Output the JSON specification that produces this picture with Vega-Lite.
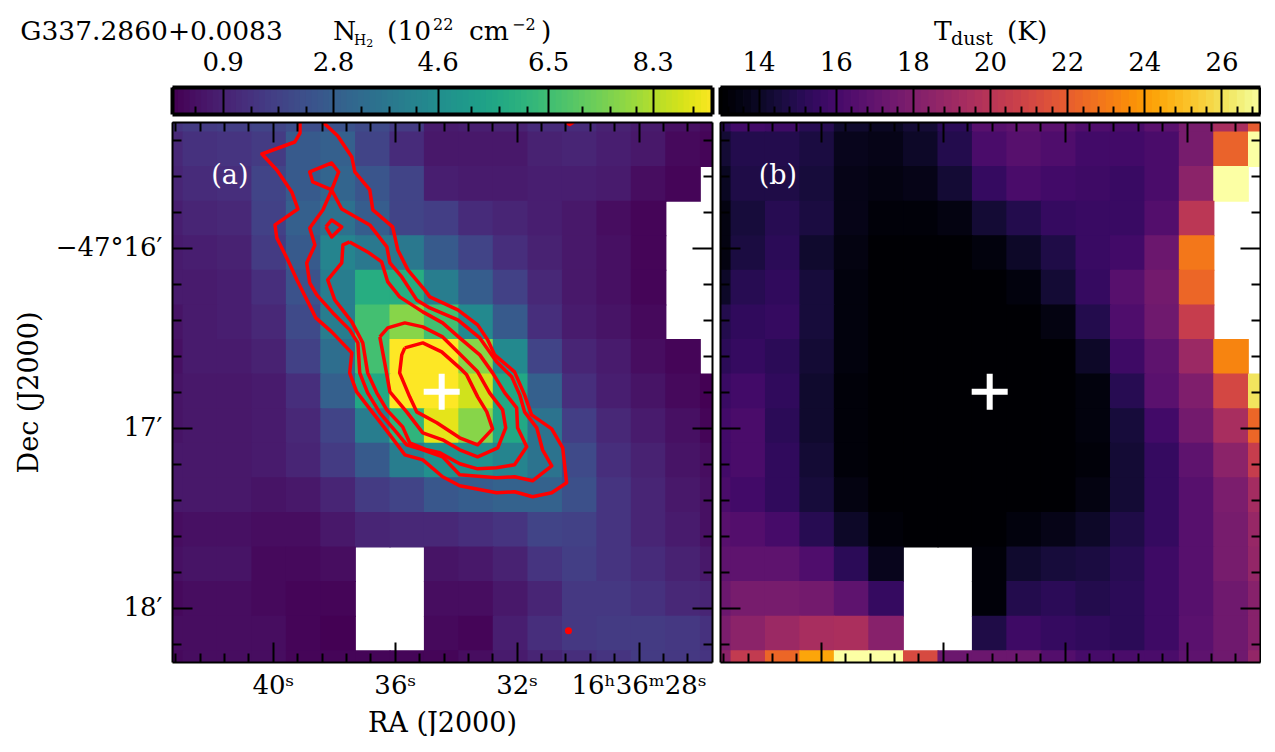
{
"$schema":"https://vega.github.io/schema/vega-lite/v6.json",
"padding":{"left":15,"top":17,"right":0,"bottom":0},
"background":"white",
"resolve":{"scale":{"color":"independent"}},
"config":{"font":"DejaVu Serif","view":{"stroke":null},
"axis":{"grid":false,"tickColor":"black","tickWidth":2,"tickSize":0,"domainColor":"black","domainWidth":2,"labelFontSize":26,"titleFontSize":27,"titleFontWeight":"normal","labelColor":"black","titleColor":"black","labelOverlap":false,"labelBound":false,"labelFlush":false}},
"datasets":{
"grid":[
{"ra":43.52,"dec":915.57,"n":1.42,"t":15.1},{"ra":42.38,"dec":915.57,"n":1.61,"t":15.8},{"ra":41.25,"dec":915.57,"n":1.7,"t":15.66},{"ra":40.12,"dec":915.57,"n":1.89,"t":14.96},{"ra":38.99,"dec":915.57,"n":2.17,"t":14.12},{"ra":37.86,"dec":915.57,"n":2.35,"t":13.84},{"ra":36.72,"dec":915.57,"n":2.07,"t":14.26},{"ra":35.59,"dec":915.57,"n":1.61,"t":15.1},{"ra":34.46,"dec":915.57,"n":0.68,"t":16.5},{"ra":33.33,"dec":915.57,"n":0.77,"t":16.78},{"ra":32.2,"dec":915.57,"n":0.87,"t":16.64},{"ra":31.06,"dec":915.57,"n":1.14,"t":16.22},{"ra":29.93,"dec":915.57,"n":1.14,"t":16.08},{"ra":28.8,"dec":915.57,"n":0.87,"t":16.64},{"ra":27.67,"dec":915.57,"n":0.68,"t":17.62},{"ra":26.54,"dec":915.57,"n":0.4,"t":19.3},{"ra":25.4,"dec":915.57,"n":0.22,"t":21.82},
{"ra":43.52,"dec":927.1,"n":1.05,"t":14.26},{"ra":42.38,"dec":927.1,"n":1.33,"t":14.82},{"ra":41.25,"dec":927.1,"n":1.42,"t":14.82},{"ra":40.12,"dec":927.1,"n":1.61,"t":14.54},{"ra":38.99,"dec":927.1,"n":2.63,"t":13.7},{"ra":37.86,"dec":927.1,"n":2.82,"t":13.56},{"ra":36.72,"dec":927.1,"n":1.89,"t":13.98},{"ra":35.59,"dec":927.1,"n":1.14,"t":14.82},{"ra":34.46,"dec":927.1,"n":0.59,"t":16.08},{"ra":33.33,"dec":927.1,"n":0.59,"t":16.5},{"ra":32.2,"dec":927.1,"n":0.59,"t":16.22},{"ra":31.06,"dec":927.1,"n":0.87,"t":15.8},{"ra":29.93,"dec":927.1,"n":0.96,"t":15.8},{"ra":28.8,"dec":927.1,"n":0.77,"t":16.08},{"ra":27.67,"dec":927.1,"n":0.59,"t":17.62},{"ra":26.54,"dec":927.1,"n":0.22,"t":22.1},{"ra":25.4,"dec":927.1,"n":0.12,"t":27},
{"ra":43.52,"dec":938.63,"n":0.96,"t":13.84},{"ra":42.38,"dec":938.63,"n":1.14,"t":14.68},{"ra":41.25,"dec":938.63,"n":1.24,"t":14.68},{"ra":40.12,"dec":938.63,"n":1.89,"t":14.4},{"ra":38.99,"dec":938.63,"n":2.63,"t":13.56},{"ra":37.86,"dec":938.63,"n":3.0,"t":13.42},{"ra":36.72,"dec":938.63,"n":2.45,"t":13.56},{"ra":35.59,"dec":938.63,"n":1.89,"t":14.26},{"ra":34.46,"dec":938.63,"n":0.77,"t":15.38},{"ra":33.33,"dec":938.63,"n":0.68,"t":16.08},{"ra":32.2,"dec":938.63,"n":0.68,"t":15.8},{"ra":31.06,"dec":938.63,"n":0.77,"t":15.66},{"ra":29.93,"dec":938.63,"n":0.77,"t":15.52},{"ra":28.8,"dec":938.63,"n":0.68,"t":16.08},{"ra":27.67,"dec":938.63,"n":0.31,"t":18.32},{"ra":26.54,"dec":938.63,"n":0.12,"t":27},
{"ra":43.52,"dec":950.17,"n":0.77,"t":13.42},{"ra":42.38,"dec":950.17,"n":0.96,"t":14.4},{"ra":41.25,"dec":950.17,"n":1.05,"t":14.96},{"ra":40.12,"dec":950.17,"n":1.8,"t":14.54},{"ra":38.99,"dec":950.17,"n":2.82,"t":13.56},{"ra":37.86,"dec":950.17,"n":3.47,"t":13.14},{"ra":36.72,"dec":950.17,"n":2.72,"t":13.14},{"ra":35.59,"dec":950.17,"n":1.89,"t":13.42},{"ra":34.46,"dec":950.17,"n":1.7,"t":14.26},{"ra":33.33,"dec":950.17,"n":1.14,"t":14.82},{"ra":32.2,"dec":950.17,"n":0.96,"t":15.38},{"ra":31.06,"dec":950.17,"n":0.77,"t":15.52},{"ra":29.93,"dec":950.17,"n":0.59,"t":15.52},{"ra":28.8,"dec":950.17,"n":0.31,"t":16.36},{"ra":27.67,"dec":950.17,"n":0.12,"t":20},
{"ra":43.52,"dec":961.7,"n":0.68,"t":13.42},{"ra":42.38,"dec":961.7,"n":0.77,"t":14.54},{"ra":41.25,"dec":961.7,"n":0.87,"t":15.1},{"ra":40.12,"dec":961.7,"n":1.61,"t":14.12},{"ra":38.99,"dec":961.7,"n":2.63,"t":13.42},{"ra":37.86,"dec":961.7,"n":4.21,"t":13},{"ra":36.72,"dec":961.7,"n":3.75,"t":13},{"ra":35.59,"dec":961.7,"n":3.75,"t":13},{"ra":34.46,"dec":961.7,"n":2.63,"t":13.28},{"ra":33.33,"dec":961.7,"n":1.89,"t":13.98},{"ra":32.2,"dec":961.7,"n":1.24,"t":14.68},{"ra":31.06,"dec":961.7,"n":0.87,"t":15.52},{"ra":29.93,"dec":961.7,"n":0.59,"t":15.8},{"ra":28.8,"dec":961.7,"n":0.4,"t":17.2},{"ra":27.67,"dec":961.7,"n":0.12,"t":22.8},
{"ra":43.52,"dec":973.23,"n":0.68,"t":13.98},{"ra":42.38,"dec":973.23,"n":0.68,"t":14.96},{"ra":41.25,"dec":973.23,"n":0.77,"t":15.24},{"ra":40.12,"dec":973.23,"n":1.24,"t":14.4},{"ra":38.99,"dec":973.23,"n":2.35,"t":13.28},{"ra":37.86,"dec":973.23,"n":3.93,"t":13},{"ra":36.72,"dec":973.23,"n":5.79,"t":13},{"ra":35.59,"dec":973.23,"n":5.79,"t":13},{"ra":34.46,"dec":973.23,"n":3.93,"t":13},{"ra":33.33,"dec":973.23,"n":2.72,"t":13.28},{"ra":32.2,"dec":973.23,"n":1.8,"t":14.26},{"ra":31.06,"dec":973.23,"n":1.05,"t":15.38},{"ra":29.93,"dec":973.23,"n":0.59,"t":16.5},{"ra":28.8,"dec":973.23,"n":0.4,"t":17.48},{"ra":27.67,"dec":973.23,"n":0.12,"t":22.24},
{"ra":43.52,"dec":984.77,"n":0.49,"t":14.82},{"ra":42.38,"dec":984.77,"n":0.68,"t":15.24},{"ra":41.25,"dec":984.77,"n":0.77,"t":15.38},{"ra":40.12,"dec":984.77,"n":1.05,"t":14.4},{"ra":38.99,"dec":984.77,"n":2.07,"t":13.28},{"ra":37.86,"dec":984.77,"n":3.93,"t":13},{"ra":36.72,"dec":984.77,"n":6.53,"t":13},{"ra":35.59,"dec":984.77,"n":7.65,"t":13},{"ra":34.46,"dec":984.77,"n":6.53,"t":13},{"ra":33.33,"dec":984.77,"n":4.4,"t":13},{"ra":32.2,"dec":984.77,"n":2.63,"t":13.42},{"ra":31.06,"dec":984.77,"n":1.24,"t":14.82},{"ra":29.93,"dec":984.77,"n":0.68,"t":16.22},{"ra":28.8,"dec":984.77,"n":0.49,"t":17.34},{"ra":27.67,"dec":984.77,"n":0.22,"t":20.42},
{"ra":43.52,"dec":996.3,"n":0.4,"t":15.1},{"ra":42.38,"dec":996.3,"n":0.68,"t":15.38},{"ra":41.25,"dec":996.3,"n":0.68,"t":15.1},{"ra":40.12,"dec":996.3,"n":0.87,"t":14.26},{"ra":38.99,"dec":996.3,"n":1.8,"t":13.28},{"ra":37.86,"dec":996.3,"n":3.37,"t":13},{"ra":36.72,"dec":996.3,"n":6.53,"t":13},{"ra":35.59,"dec":996.3,"n":9.32,"t":13},{"ra":34.46,"dec":996.3,"n":9.32,"t":13},{"ra":33.33,"dec":996.3,"n":7.65,"t":13},{"ra":32.2,"dec":996.3,"n":4.4,"t":13},{"ra":31.06,"dec":996.3,"n":1.89,"t":13.98},{"ra":29.93,"dec":996.3,"n":0.96,"t":15.66},{"ra":28.8,"dec":996.3,"n":0.68,"t":16.78},{"ra":27.67,"dec":996.3,"n":0.31,"t":18.88},{"ra":26.54,"dec":996.3,"n":0.12,"t":23.22},
{"ra":43.52,"dec":1007.83,"n":0.49,"t":15.52},{"ra":42.38,"dec":1007.83,"n":0.59,"t":15.8},{"ra":41.25,"dec":1007.83,"n":0.59,"t":15.24},{"ra":40.12,"dec":1007.83,"n":0.68,"t":14.12},{"ra":38.99,"dec":1007.83,"n":1.24,"t":13.14},{"ra":37.86,"dec":1007.83,"n":2.82,"t":13},{"ra":36.72,"dec":1007.83,"n":5.6,"t":13},{"ra":35.59,"dec":1007.83,"n":9.32,"t":13},{"ra":34.46,"dec":1007.83,"n":9.32,"t":13},{"ra":33.33,"dec":1007.83,"n":8.67,"t":13},{"ra":32.2,"dec":1007.83,"n":5.6,"t":13},{"ra":31.06,"dec":1007.83,"n":2.82,"t":13.28},{"ra":29.93,"dec":1007.83,"n":1.24,"t":14.96},{"ra":28.8,"dec":1007.83,"n":0.77,"t":16.64},{"ra":27.67,"dec":1007.83,"n":0.49,"t":17.9},{"ra":26.54,"dec":1007.83,"n":0.22,"t":20.98},{"ra":25.4,"dec":1007.83,"n":0.03,"t":26.02},
{"ra":43.52,"dec":1019.37,"n":0.49,"t":15.8},{"ra":42.38,"dec":1019.37,"n":0.59,"t":16.08},{"ra":41.25,"dec":1019.37,"n":0.59,"t":15.1},{"ra":40.12,"dec":1019.37,"n":0.68,"t":14.12},{"ra":38.99,"dec":1019.37,"n":1.05,"t":13.14},{"ra":37.86,"dec":1019.37,"n":1.89,"t":13},{"ra":36.72,"dec":1019.37,"n":3.93,"t":13},{"ra":35.59,"dec":1019.37,"n":6.07,"t":13},{"ra":34.46,"dec":1019.37,"n":8.95,"t":13},{"ra":33.33,"dec":1019.37,"n":7.65,"t":13},{"ra":32.2,"dec":1019.37,"n":5.6,"t":13},{"ra":31.06,"dec":1019.37,"n":3.56,"t":13.28},{"ra":29.93,"dec":1019.37,"n":1.7,"t":14.4},{"ra":28.8,"dec":1019.37,"n":1.05,"t":15.8},{"ra":27.67,"dec":1019.37,"n":0.68,"t":17.48},{"ra":26.54,"dec":1019.37,"n":0.4,"t":19.3},{"ra":25.4,"dec":1019.37,"n":0.12,"t":22.24},
{"ra":43.52,"dec":1030.9,"n":0.59,"t":15.8},{"ra":42.38,"dec":1030.9,"n":0.59,"t":16.08},{"ra":41.25,"dec":1030.9,"n":0.59,"t":15.24},{"ra":40.12,"dec":1030.9,"n":0.68,"t":14.26},{"ra":38.99,"dec":1030.9,"n":0.96,"t":13.14},{"ra":37.86,"dec":1030.9,"n":1.61,"t":13},{"ra":36.72,"dec":1030.9,"n":2.63,"t":13},{"ra":35.59,"dec":1030.9,"n":3.93,"t":13},{"ra":34.46,"dec":1030.9,"n":4.68,"t":13},{"ra":33.33,"dec":1030.9,"n":4.68,"t":13},{"ra":32.2,"dec":1030.9,"n":4.21,"t":13},{"ra":31.06,"dec":1030.9,"n":3.56,"t":13.14},{"ra":29.93,"dec":1030.9,"n":2.07,"t":14.26},{"ra":28.8,"dec":1030.9,"n":1.24,"t":15.38},{"ra":27.67,"dec":1030.9,"n":0.87,"t":16.78},{"ra":26.54,"dec":1030.9,"n":0.49,"t":18.32},{"ra":25.4,"dec":1030.9,"n":0.31,"t":20.42},
{"ra":43.52,"dec":1042.43,"n":0.59,"t":16.08},{"ra":42.38,"dec":1042.43,"n":0.59,"t":15.8},{"ra":41.25,"dec":1042.43,"n":0.59,"t":15.24},{"ra":40.12,"dec":1042.43,"n":0.49,"t":14.4},{"ra":38.99,"dec":1042.43,"n":0.59,"t":13.42},{"ra":37.86,"dec":1042.43,"n":0.96,"t":13},{"ra":36.72,"dec":1042.43,"n":1.61,"t":13},{"ra":35.59,"dec":1042.43,"n":1.89,"t":13},{"ra":34.46,"dec":1042.43,"n":2.54,"t":13},{"ra":33.33,"dec":1042.43,"n":2.72,"t":13},{"ra":32.2,"dec":1042.43,"n":2.91,"t":13},{"ra":31.06,"dec":1042.43,"n":2.91,"t":13.42},{"ra":29.93,"dec":1042.43,"n":2.26,"t":14.26},{"ra":28.8,"dec":1042.43,"n":1.42,"t":15.38},{"ra":27.67,"dec":1042.43,"n":0.96,"t":16.5},{"ra":26.54,"dec":1042.43,"n":0.59,"t":17.76},{"ra":25.4,"dec":1042.43,"n":0.4,"t":19.16},
{"ra":43.52,"dec":1053.97,"n":0.31,"t":16.5},{"ra":42.38,"dec":1053.97,"n":0.4,"t":16.36},{"ra":41.25,"dec":1053.97,"n":0.4,"t":15.94},{"ra":40.12,"dec":1053.97,"n":0.31,"t":14.96},{"ra":38.99,"dec":1053.97,"n":0.31,"t":13.98},{"ra":37.86,"dec":1053.97,"n":0.59,"t":13.14},{"ra":36.72,"dec":1053.97,"n":0.96,"t":13},{"ra":35.59,"dec":1053.97,"n":1.05,"t":13},{"ra":34.46,"dec":1053.97,"n":1.05,"t":13},{"ra":33.33,"dec":1053.97,"n":1.24,"t":13.28},{"ra":32.2,"dec":1053.97,"n":1.42,"t":13.56},{"ra":31.06,"dec":1053.97,"n":1.89,"t":13.98},{"ra":29.93,"dec":1053.97,"n":1.8,"t":14.68},{"ra":28.8,"dec":1053.97,"n":1.42,"t":15.38},{"ra":27.67,"dec":1053.97,"n":0.96,"t":16.5},{"ra":26.54,"dec":1053.97,"n":0.68,"t":17.62},{"ra":25.4,"dec":1053.97,"n":0.4,"t":18.74},
{"ra":43.52,"dec":1065.5,"n":0.4,"t":16.78},{"ra":42.38,"dec":1065.5,"n":0.49,"t":16.78},{"ra":41.25,"dec":1065.5,"n":0.49,"t":16.78},{"ra":40.12,"dec":1065.5,"n":0.22,"t":16.22},{"ra":38.99,"dec":1065.5,"n":0.22,"t":15.1},{"ra":37.86,"dec":1065.5,"n":0.31,"t":13.7},{"ra":34.46,"dec":1065.5,"n":0.49,"t":13.14},{"ra":33.33,"dec":1065.5,"n":0.59,"t":14.12},{"ra":32.2,"dec":1065.5,"n":0.87,"t":14.4},{"ra":31.06,"dec":1065.5,"n":1.42,"t":14.54},{"ra":29.93,"dec":1065.5,"n":1.7,"t":14.96},{"ra":28.8,"dec":1065.5,"n":1.42,"t":15.66},{"ra":27.67,"dec":1065.5,"n":1.14,"t":16.5},{"ra":26.54,"dec":1065.5,"n":0.87,"t":17.62},{"ra":25.4,"dec":1065.5,"n":0.59,"t":18.6},
{"ra":43.52,"dec":1077.03,"n":0.22,"t":17.2},{"ra":42.38,"dec":1077.03,"n":0.31,"t":17.62},{"ra":41.25,"dec":1077.03,"n":0.31,"t":17.62},{"ra":40.12,"dec":1077.03,"n":0.22,"t":17.48},{"ra":38.99,"dec":1077.03,"n":0.12,"t":16.78},{"ra":37.86,"dec":1077.03,"n":0.12,"t":15.38},{"ra":34.46,"dec":1077.03,"n":0.31,"t":13.14},{"ra":33.33,"dec":1077.03,"n":0.31,"t":14.82},{"ra":32.2,"dec":1077.03,"n":0.59,"t":15.1},{"ra":31.06,"dec":1077.03,"n":0.96,"t":14.82},{"ra":29.93,"dec":1077.03,"n":1.52,"t":15.1},{"ra":28.8,"dec":1077.03,"n":1.52,"t":15.66},{"ra":27.67,"dec":1077.03,"n":1.33,"t":16.5},{"ra":26.54,"dec":1077.03,"n":1.05,"t":17.34},{"ra":25.4,"dec":1077.03,"n":0.96,"t":18.18},
{"ra":43.52,"dec":1088.57,"n":0.31,"t":17.76},{"ra":42.38,"dec":1088.57,"n":0.31,"t":18.32},{"ra":41.25,"dec":1088.57,"n":0.31,"t":18.88},{"ra":40.12,"dec":1088.57,"n":0.31,"t":19.3},{"ra":38.99,"dec":1088.57,"n":0.12,"t":19.44},{"ra":37.86,"dec":1088.57,"n":0.03,"t":18.18},{"ra":34.46,"dec":1088.57,"n":0.22,"t":14.68},{"ra":33.33,"dec":1088.57,"n":0.12,"t":15.66},{"ra":32.2,"dec":1088.57,"n":0.77,"t":15.38},{"ra":31.06,"dec":1088.57,"n":1.24,"t":15.24},{"ra":29.93,"dec":1088.57,"n":1.52,"t":15.1},{"ra":28.8,"dec":1088.57,"n":1.61,"t":15.66},{"ra":27.67,"dec":1088.57,"n":1.61,"t":16.64},{"ra":26.54,"dec":1088.57,"n":1.52,"t":17.34},{"ra":25.4,"dec":1088.57,"n":1.33,"t":18.18},
{"ra":43.52,"dec":1100.1,"n":0.22,"t":18.32},{"ra":42.38,"dec":1100.1,"n":0.31,"t":20.28},{"ra":41.25,"dec":1100.1,"n":0.31,"t":22.24},{"ra":40.12,"dec":1100.1,"n":0.31,"t":24.2},{"ra":38.99,"dec":1100.1,"n":0.12,"t":27},{"ra":37.86,"dec":1100.1,"n":0.12,"t":27},{"ra":36.72,"dec":1100.1,"n":0.12,"t":21.12},{"ra":35.59,"dec":1100.1,"n":0.12,"t":17.2},{"ra":34.46,"dec":1100.1,"n":0.12,"t":17.2},{"ra":33.33,"dec":1100.1,"n":0.31,"t":17.2},{"ra":32.2,"dec":1100.1,"n":0.68,"t":16.36},{"ra":31.06,"dec":1100.1,"n":0.96,"t":15.94},{"ra":29.93,"dec":1100.1,"n":1.24,"t":16.08},{"ra":28.8,"dec":1100.1,"n":1.42,"t":16.08},{"ra":27.67,"dec":1100.1,"n":1.61,"t":16.78},{"ra":26.54,"dec":1100.1,"n":1.52,"t":17.34},{"ra":25.4,"dec":1100.1,"n":1.42,"t":18.6}
],
"contour":[
{"c":"1","o":1,"ra":39.11,"dec":918},{"c":"1","o":2,"ra":39.11,"dec":921.67},{"c":"1","o":3,"ra":39.28,"dec":924.67},{"c":"1","o":4,"ra":40.36,"dec":928.67},{"c":"1","o":5,"ra":39.87,"dec":934},{"c":"1","o":6,"ra":39.38,"dec":941.33},{"c":"1","o":7,"ra":39.18,"dec":947},{"c":"1","o":8,"ra":39.93,"dec":952.33},{"c":"1","o":9,"ra":39.87,"dec":956.67},{"c":"1","o":10,"ra":39.51,"dec":964},{"c":"1","o":11,"ra":39.21,"dec":970.67},{"c":"1","o":12,"ra":38.59,"dec":983.33},{"c":"1","o":13,"ra":38.07,"dec":988},{"c":"1","o":14,"ra":37.41,"dec":995},{"c":"1","o":15,"ra":37.48,"dec":1001.67},{"c":"1","o":16,"ra":37.25,"dec":1008},{"c":"1","o":17,"ra":36.92,"dec":1012.33},{"c":"1","o":18,"ra":36.16,"dec":1022.33},{"c":"1","o":19,"ra":35.67,"dec":1029},{"c":"1","o":20,"ra":35.08,"dec":1030.67},{"c":"1","o":21,"ra":34.43,"dec":1036.33},{"c":"1","o":22,"ra":33.87,"dec":1039.33},{"c":"1","o":23,"ra":32.66,"dec":1041.67},{"c":"1","o":24,"ra":32.07,"dec":1041.33},{"c":"1","o":25,"ra":31.48,"dec":1043},{"c":"1","o":26,"ra":30.85,"dec":1041.67},{"c":"1","o":27,"ra":30.36,"dec":1038.33},{"c":"1","o":28,"ra":30.49,"dec":1026.67},{"c":"1","o":29,"ra":30.85,"dec":1020.33},{"c":"1","o":30,"ra":31.51,"dec":1015.67},{"c":"1","o":31,"ra":31.74,"dec":1009},{"c":"1","o":32,"ra":32.07,"dec":1001.33},{"c":"1","o":33,"ra":32.72,"dec":995.67},{"c":"1","o":34,"ra":32.95,"dec":990.67},{"c":"1","o":35,"ra":33.28,"dec":985.67},{"c":"1","o":36,"ra":33.93,"dec":980.67},{"c":"1","o":37,"ra":34.85,"dec":976.33},{"c":"1","o":38,"ra":35.02,"dec":974},{"c":"1","o":39,"ra":35.57,"dec":967.33},{"c":"1","o":40,"ra":35.9,"dec":960.67},{"c":"1","o":41,"ra":36.07,"dec":953},{"c":"1","o":42,"ra":36.72,"dec":947.33},{"c":"1","o":43,"ra":36.82,"dec":940.67},{"c":"1","o":44,"ra":37.31,"dec":934.67},{"c":"1","o":45,"ra":37.41,"dec":929.67},{"c":"1","o":46,"ra":37.87,"dec":922.67},{"c":"1","o":47,"ra":38.36,"dec":918},
{"c":"2","o":1,"ra":38.07,"dec":940.67},{"c":"2","o":2,"ra":38.69,"dec":938},{"c":"2","o":3,"ra":38.79,"dec":934.67},{"c":"2","o":4,"ra":38.07,"dec":931.67},{"c":"2","o":5,"ra":37.84,"dec":934.67},{"c":"2","o":6,"ra":38.07,"dec":940.67},{"c":"2","o":7,"ra":38.36,"dec":947.33},{"c":"2","o":8,"ra":38.79,"dec":953.33},{"c":"2","o":9,"ra":38.62,"dec":959},{"c":"2","o":10,"ra":38.89,"dec":965},{"c":"2","o":11,"ra":38.79,"dec":971.67},{"c":"2","o":12,"ra":38.56,"dec":975.67},{"c":"2","o":13,"ra":38.03,"dec":981.67},{"c":"2","o":14,"ra":37.48,"dec":987.33},{"c":"2","o":15,"ra":37.21,"dec":991.67},{"c":"2","o":16,"ra":37.15,"dec":1001.67},{"c":"2","o":17,"ra":36.89,"dec":1008.33},{"c":"2","o":18,"ra":36.49,"dec":1015},{"c":"2","o":19,"ra":35.93,"dec":1021.67},{"c":"2","o":20,"ra":35.61,"dec":1025.67},{"c":"2","o":21,"ra":35.08,"dec":1027.33},{"c":"2","o":22,"ra":34.43,"dec":1029.67},{"c":"2","o":23,"ra":33.87,"dec":1035.67},{"c":"2","o":24,"ra":32.66,"dec":1036.67},{"c":"2","o":25,"ra":32.07,"dec":1036.33},{"c":"2","o":26,"ra":31.48,"dec":1037.67},{"c":"2","o":27,"ra":30.85,"dec":1032.67},{"c":"2","o":28,"ra":31.15,"dec":1027.33},{"c":"2","o":29,"ra":31.34,"dec":1020},{"c":"2","o":30,"ra":31.74,"dec":1014.67},{"c":"2","o":31,"ra":31.9,"dec":1009},{"c":"2","o":32,"ra":32.16,"dec":1003},{"c":"2","o":33,"ra":32.66,"dec":998},{"c":"2","o":34,"ra":33.21,"dec":990},{"c":"2","o":35,"ra":33.93,"dec":984},{"c":"2","o":36,"ra":34.85,"dec":980},{"c":"2","o":37,"ra":35.28,"dec":977.33},{"c":"2","o":38,"ra":35.77,"dec":969.67},{"c":"2","o":39,"ra":36.16,"dec":965},{"c":"2","o":40,"ra":36.26,"dec":959.67},{"c":"2","o":41,"ra":36.82,"dec":952.33},{"c":"2","o":42,"ra":37.74,"dec":947},{"c":"2","o":43,"ra":38.07,"dec":940.67},
{"c":"3","o":1,"ra":37.48,"dec":958},{"c":"3","o":2,"ra":36.89,"dec":961.33},{"c":"3","o":3,"ra":36.43,"dec":964.67},{"c":"3","o":4,"ra":36.23,"dec":971.33},{"c":"3","o":5,"ra":35.84,"dec":976.33},{"c":"3","o":6,"ra":35.08,"dec":981.33},{"c":"3","o":7,"ra":34.43,"dec":985},{"c":"3","o":8,"ra":33.87,"dec":990},{"c":"3","o":9,"ra":33.21,"dec":995.67},{"c":"3","o":10,"ra":32.79,"dec":1001.67},{"c":"3","o":11,"ra":32.39,"dec":1008.33},{"c":"3","o":12,"ra":32.0,"dec":1013.33},{"c":"3","o":13,"ra":31.97,"dec":1020},{"c":"3","o":14,"ra":31.67,"dec":1026.33},{"c":"3","o":15,"ra":32.07,"dec":1032.33},{"c":"3","o":16,"ra":32.66,"dec":1033.33},{"c":"3","o":17,"ra":33.28,"dec":1033.67},{"c":"3","o":18,"ra":33.87,"dec":1032},{"c":"3","o":19,"ra":34.52,"dec":1028.33},{"c":"3","o":20,"ra":34.95,"dec":1027.33},{"c":"3","o":21,"ra":35.51,"dec":1025},{"c":"3","o":22,"ra":35.74,"dec":1019.67},{"c":"3","o":23,"ra":36.26,"dec":1014},{"c":"3","o":24,"ra":36.59,"dec":1008.33},{"c":"3","o":25,"ra":36.89,"dec":1001.67},{"c":"3","o":26,"ra":37.05,"dec":991.67},{"c":"3","o":27,"ra":37.41,"dec":984.67},{"c":"3","o":28,"ra":37.97,"dec":977.33},{"c":"3","o":29,"ra":38.2,"dec":970.67},{"c":"3","o":30,"ra":37.74,"dec":965},{"c":"3","o":31,"ra":37.7,"dec":959},{"c":"3","o":32,"ra":37.48,"dec":958},
{"c":"d","o":1,"ra":38.26,"dec":953},{"c":"d","o":2,"ra":38.07,"dec":950.67},{"c":"d","o":3,"ra":37.74,"dec":953},{"c":"d","o":4,"ra":38.07,"dec":956.33},{"c":"d","o":5,"ra":38.26,"dec":953},
{"c":"4","o":1,"ra":36.49,"dec":989.67},{"c":"4","o":2,"ra":36.23,"dec":986.67},{"c":"4","o":3,"ra":35.67,"dec":985},{"c":"4","o":4,"ra":35.08,"dec":986.33},{"c":"4","o":5,"ra":34.43,"dec":989.67},{"c":"4","o":6,"ra":33.93,"dec":994.67},{"c":"4","o":7,"ra":33.28,"dec":1001.33},{"c":"4","o":8,"ra":32.89,"dec":1008.33},{"c":"4","o":9,"ra":32.46,"dec":1014},{"c":"4","o":10,"ra":32.36,"dec":1020},{"c":"4","o":11,"ra":32.62,"dec":1026.67},{"c":"4","o":12,"ra":33.28,"dec":1029.67},{"c":"4","o":13,"ra":33.87,"dec":1027.33},{"c":"4","o":14,"ra":34.43,"dec":1024},{"c":"4","o":15,"ra":35.08,"dec":1021.67},{"c":"4","o":16,"ra":35.61,"dec":1014.67},{"c":"4","o":17,"ra":36.16,"dec":1008},{"c":"4","o":18,"ra":36.33,"dec":998.33},{"c":"4","o":19,"ra":36.49,"dec":989.67},
{"c":"5","o":1,"ra":35.67,"dec":993.33},{"c":"5","o":2,"ra":35.08,"dec":991.67},{"c":"5","o":3,"ra":34.46,"dec":994.67},{"c":"5","o":4,"ra":33.87,"dec":1000},{"c":"5","o":5,"ra":33.64,"dec":1002.33},{"c":"5","o":6,"ra":33.28,"dec":1009.67},{"c":"5","o":7,"ra":32.98,"dec":1014.67},{"c":"5","o":8,"ra":32.79,"dec":1020.33},{"c":"5","o":9,"ra":33.28,"dec":1025.67},{"c":"5","o":10,"ra":33.87,"dec":1023.33},{"c":"5","o":11,"ra":34.62,"dec":1018.33},{"c":"5","o":12,"ra":35.28,"dec":1014.67},{"c":"5","o":13,"ra":35.51,"dec":1009.67},{"c":"5","o":14,"ra":35.84,"dec":1001.67},{"c":"5","o":15,"ra":35.77,"dec":995.67},{"c":"5","o":16,"ra":35.67,"dec":993.33},
{"c":"e","o":1,"ra":30.39,"dec":918},{"c":"e","o":2,"ra":30.26,"dec":918.83},{"c":"e","o":3,"ra":30.13,"dec":918}
],
"barN":[
{"lo":0.03,"hi":0.15},{"lo":0.13,"hi":0.25},{"lo":0.23,"hi":0.35},{"lo":0.33,"hi":0.45},{"lo":0.43,"hi":0.55},{"lo":0.53,"hi":0.65},{"lo":0.63,"hi":0.75},{"lo":0.73,"hi":0.85},{"lo":0.83,"hi":0.95},{"lo":0.93,"hi":1.05},{"lo":1.03,"hi":1.15},{"lo":1.13,"hi":1.25},{"lo":1.23,"hi":1.35},{"lo":1.33,"hi":1.45},{"lo":1.43,"hi":1.55},{"lo":1.53,"hi":1.65},{"lo":1.63,"hi":1.75},{"lo":1.73,"hi":1.85},{"lo":1.83,"hi":1.95},{"lo":1.93,"hi":2.05},{"lo":2.03,"hi":2.15},{"lo":2.13,"hi":2.25},{"lo":2.23,"hi":2.35},{"lo":2.33,"hi":2.45},{"lo":2.43,"hi":2.55},{"lo":2.53,"hi":2.65},{"lo":2.63,"hi":2.75},{"lo":2.73,"hi":2.85},{"lo":2.83,"hi":2.95},{"lo":2.93,"hi":3.05},{"lo":3.03,"hi":3.15},{"lo":3.13,"hi":3.25},{"lo":3.23,"hi":3.35},{"lo":3.33,"hi":3.45},{"lo":3.43,"hi":3.55},{"lo":3.53,"hi":3.65},{"lo":3.63,"hi":3.75},{"lo":3.73,"hi":3.85},{"lo":3.83,"hi":3.95},{"lo":3.93,"hi":4.05},{"lo":4.03,"hi":4.15},{"lo":4.13,"hi":4.25},{"lo":4.23,"hi":4.35},{"lo":4.33,"hi":4.45},{"lo":4.43,"hi":4.55},{"lo":4.53,"hi":4.65},{"lo":4.63,"hi":4.75},{"lo":4.73,"hi":4.85},{"lo":4.83,"hi":4.95},{"lo":4.93,"hi":5.05},{"lo":5.03,"hi":5.15},{"lo":5.13,"hi":5.25},{"lo":5.23,"hi":5.35},{"lo":5.33,"hi":5.45},{"lo":5.43,"hi":5.55},{"lo":5.53,"hi":5.65},{"lo":5.63,"hi":5.75},{"lo":5.73,"hi":5.85},{"lo":5.83,"hi":5.95},{"lo":5.93,"hi":6.05},{"lo":6.03,"hi":6.15},{"lo":6.13,"hi":6.25},{"lo":6.23,"hi":6.35},{"lo":6.33,"hi":6.45},{"lo":6.43,"hi":6.55},{"lo":6.53,"hi":6.65},{"lo":6.63,"hi":6.75},{"lo":6.73,"hi":6.85},{"lo":6.83,"hi":6.95},{"lo":6.93,"hi":7.05},{"lo":7.03,"hi":7.15},{"lo":7.13,"hi":7.25},{"lo":7.23,"hi":7.35},{"lo":7.33,"hi":7.45},{"lo":7.43,"hi":7.55},{"lo":7.53,"hi":7.65},{"lo":7.63,"hi":7.75},{"lo":7.73,"hi":7.85},{"lo":7.83,"hi":7.95},{"lo":7.93,"hi":8.05},{"lo":8.03,"hi":8.15},{"lo":8.13,"hi":8.25},{"lo":8.23,"hi":8.35},{"lo":8.33,"hi":8.45},{"lo":8.43,"hi":8.55},{"lo":8.53,"hi":8.65},{"lo":8.63,"hi":8.75},{"lo":8.73,"hi":8.85},{"lo":8.83,"hi":8.95},{"lo":8.93,"hi":9.05},{"lo":9.03,"hi":9.15},{"lo":9.13,"hi":9.25},{"lo":9.23,"hi":9.32}
],
"barT":[
{"lo":13.0,"hi":13.22},{"lo":13.2,"hi":13.42},{"lo":13.4,"hi":13.62},{"lo":13.6,"hi":13.82},{"lo":13.8,"hi":14.02},{"lo":14.0,"hi":14.22},{"lo":14.2,"hi":14.42},{"lo":14.4,"hi":14.62},{"lo":14.6,"hi":14.82},{"lo":14.8,"hi":15.02},{"lo":15.0,"hi":15.22},{"lo":15.2,"hi":15.42},{"lo":15.4,"hi":15.62},{"lo":15.6,"hi":15.82},{"lo":15.8,"hi":16.02},{"lo":16.0,"hi":16.22},{"lo":16.2,"hi":16.42},{"lo":16.4,"hi":16.62},{"lo":16.6,"hi":16.82},{"lo":16.8,"hi":17.02},{"lo":17.0,"hi":17.22},{"lo":17.2,"hi":17.42},{"lo":17.4,"hi":17.62},{"lo":17.6,"hi":17.82},{"lo":17.8,"hi":18.02},{"lo":18.0,"hi":18.22},{"lo":18.2,"hi":18.42},{"lo":18.4,"hi":18.62},{"lo":18.6,"hi":18.82},{"lo":18.8,"hi":19.02},{"lo":19.0,"hi":19.22},{"lo":19.2,"hi":19.42},{"lo":19.4,"hi":19.62},{"lo":19.6,"hi":19.82},{"lo":19.8,"hi":20.02},{"lo":20.0,"hi":20.22},{"lo":20.2,"hi":20.42},{"lo":20.4,"hi":20.62},{"lo":20.6,"hi":20.82},{"lo":20.8,"hi":21.02},{"lo":21.0,"hi":21.22},{"lo":21.2,"hi":21.42},{"lo":21.4,"hi":21.62},{"lo":21.6,"hi":21.82},{"lo":21.8,"hi":22.02},{"lo":22.0,"hi":22.22},{"lo":22.2,"hi":22.42},{"lo":22.4,"hi":22.62},{"lo":22.6,"hi":22.82},{"lo":22.8,"hi":23.02},{"lo":23.0,"hi":23.22},{"lo":23.2,"hi":23.42},{"lo":23.4,"hi":23.62},{"lo":23.6,"hi":23.82},{"lo":23.8,"hi":24.02},{"lo":24.0,"hi":24.22},{"lo":24.2,"hi":24.42},{"lo":24.4,"hi":24.62},{"lo":24.6,"hi":24.82},{"lo":24.8,"hi":25.02},{"lo":25.0,"hi":25.22},{"lo":25.2,"hi":25.42},{"lo":25.4,"hi":25.62},{"lo":25.6,"hi":25.82},{"lo":25.8,"hi":26.02},{"lo":26.0,"hi":26.22},{"lo":26.2,"hi":26.42},{"lo":26.4,"hi":26.62},{"lo":26.6,"hi":26.82},{"lo":26.8,"hi":27}
]
},
"columns":2,
"spacing":8,
"bounds":"flush",
"concat":[
{"width":540,"height":27,
 "resolve":{"axis":{"x":"independent","y":"independent"}},
 "layer":[
 {"data":{"name":"barN"},"mark":{"type":"rect"},
  "encoding":{
   "x":{"field":"lo","type":"quantitative","scale":{"domain":[0.03,9.32],"nice":false,"zero":false},
     "axis":{"zindex":1,"orient":"bottom","title":null,"labels":false,"domainWidth":4,"values":[0.42,0.9,1.39,1.86,2.34,2.8,3.29,3.76,4.22,4.6,5.18,5.65,6.13,6.5,7.08,7.56,8.02,8.3,8.99],
      "encoding":{"ticks":{"y2":{"value":{"expr":"indexof([0.9,2.8,4.6,6.5,8.3],datum.value)>=0?-27:-8"}}}}}},
   "x2":{"field":"hi"},
   "y":{"datum":0,"type":"quantitative","scale":{"domain":[0,1],"nice":false,"zero":false},"axis":{"zindex":1,"orient":"left","title":null,"labels":false,"ticks":false,"domainWidth":4}},
   "y2":{"datum":1},
   "color":{"field":"lo","type":"quantitative","scale":{"scheme":"viridis","domain":[0.03,9.32],"clamp":true},"legend":null}}},
 {"data":{"values":[{"s":"N","x":2.8,"y":2.74},{"s":"(10","x":3.73,"y":2.74},{"s":"cm","x":5.14,"y":2.74},{"s":")","x":6.38,"y":2.74},{"s":"G337.2860+0.0083","x":-2.58,"y":2.74}]},
  "mark":{"type":"text","align":"left","baseline":"alphabetic","fontSize":26.5,"clip":false},
  "encoding":{"text":{"field":"s"},
   "x":{"field":"x","type":"quantitative","scale":{"domain":[0.03,9.32],"nice":false,"zero":false},
     "axis":{"zindex":1,"orient":"top","title":null,"ticks":false,"labelPadding":12,"domainWidth":4,"values":[0.9,2.8,4.6,6.5,8.3],"format":".1f"}},
   "y":{"field":"y","type":"quantitative","scale":{"domain":[0,1],"nice":false,"zero":false},"axis":{"zindex":1,"orient":"right","title":null,"labels":false,"ticks":false,"domainWidth":4}}}},
 {"data":{"values":[{"s":"22","x":4.52,"y":3.11},{"s":"−2","x":5.88,"y":3.11}]},
  "mark":{"type":"text","align":"left","baseline":"alphabetic","fontSize":16,"clip":false},
  "encoding":{"text":{"field":"s"},
   "x":{"field":"x","type":"quantitative","scale":{"domain":[0.03,9.32],"nice":false,"zero":false},"axis":null},
   "y":{"field":"y","type":"quantitative","scale":{"domain":[0,1],"nice":false,"zero":false},"axis":null}}},
 {"data":{"values":[{"s":"H","x":3.16,"y":2.56}]},
  "mark":{"type":"text","align":"left","baseline":"alphabetic","fontSize":14,"clip":false},
  "encoding":{"text":{"field":"s"},
   "x":{"field":"x","type":"quantitative","scale":{"domain":[0.03,9.32],"nice":false,"zero":false},"axis":null},
   "y":{"field":"y","type":"quantitative","scale":{"domain":[0,1],"nice":false,"zero":false},"axis":null}}},
 {"data":{"values":[{"s":"2","x":3.37,"y":2.48}]},
  "mark":{"type":"text","align":"left","baseline":"alphabetic","fontSize":11,"clip":false},
  "encoding":{"text":{"field":"s"},
   "x":{"field":"x","type":"quantitative","scale":{"domain":[0.03,9.32],"nice":false,"zero":false},"axis":null},
   "y":{"field":"y","type":"quantitative","scale":{"domain":[0,1],"nice":false,"zero":false},"axis":null}}}
 ]},
{"width":540,"height":27,
 "resolve":{"axis":{"x":"independent","y":"independent"}},
 "layer":[
 {"data":{"name":"barT"},"mark":{"type":"rect"},
  "encoding":{
   "x":{"field":"lo","type":"quantitative","scale":{"domain":[13,27],"nice":false,"zero":false},
     "axis":{"zindex":1,"orient":"bottom","title":null,"labels":false,"domainWidth":4,"values":[13.2,13.6,14,14.4,14.8,15.2,15.6,16,16.4,16.8,17.2,17.6,18,18.4,18.8,19.2,19.6,20,20.4,20.8,21.2,21.6,22,22.4,22.8,23.2,23.6,24,24.4,24.8,25.2,25.6,26,26.4,26.8],
      "encoding":{"ticks":{"y2":{"value":{"expr":"abs(datum.value/2-round(datum.value/2))<0.001?-27:-8"}}}}}},
   "x2":{"field":"hi"},
   "y":{"datum":0,"type":"quantitative","scale":{"domain":[0,1],"nice":false,"zero":false},"axis":{"zindex":1,"orient":"left","title":null,"labels":false,"ticks":false,"domainWidth":4}},
   "y2":{"datum":1},
   "color":{"field":"lo","type":"quantitative","scale":{"scheme":"inferno","domain":[13,27],"clamp":true},"legend":null}}},
 {"data":{"values":[{"s":"T","x":18.55,"y":2.74},{"s":"(K)","x":20.44,"y":2.74}]},
  "mark":{"type":"text","align":"left","baseline":"alphabetic","fontSize":26.5,"clip":false},
  "encoding":{"text":{"field":"s"},
   "x":{"field":"x","type":"quantitative","scale":{"domain":[13,27],"nice":false,"zero":false},
     "axis":{"zindex":1,"orient":"top","title":null,"ticks":false,"labelPadding":12,"domainWidth":4,"values":[14,16,18,20,22,24,26],"format":"d"}},
   "y":{"field":"y","type":"quantitative","scale":{"domain":[0,1],"nice":false,"zero":false},"axis":{"zindex":1,"orient":"right","title":null,"labels":false,"ticks":false,"domainWidth":4}}}},
 {"data":{"values":[{"s":"dust","x":18.99,"y":2.56}]},
  "mark":{"type":"text","align":"left","baseline":"alphabetic","fontSize":19,"clip":false},
  "encoding":{"text":{"field":"s"},
   "x":{"field":"x","type":"quantitative","scale":{"domain":[13,27],"nice":false,"zero":false},"axis":null},
   "y":{"field":"y","type":"quantitative","scale":{"domain":[0,1],"nice":false,"zero":false},"axis":null}}}
 ]},
{"width":540,"height":540,
 "resolve":{"axis":{"x":"independent","y":"independent"}},
 "layer":[
 {"data":{"name":"grid"},"mark":{"type":"rect","width":35.6,"height":35.6,"clip":true},
  "encoding":{
   "x":{"field":"ra","type":"quantitative","scale":{"domain":[43.31,25.59],"nice":false,"zero":false},
    "axis":{"zindex":1,"orient":"bottom","title":"RA (J2000)","titlePadding":12,"labelPadding":10,"values":[26.4,27.2,28,28.8,29.6,30.4,31.2,32,32.8,33.6,34.4,35.2,36,36.8,37.6,38.4,39.2,40,40.8,41.6,42.4,43.2],
     "labelExpr":"abs(datum.value/4-round(datum.value/4))>0.001?'':(datum.value==28?'16ʰ36ᵐ28ˢ':format(datum.value,'d')+'ˢ')",
     "encoding":{"ticks":{"y2":{"value":{"expr":"abs(datum.value/4-round(datum.value/4))<0.001?-20:-9"}}}}}},
   "y":{"field":"dec","type":"quantitative","scale":{"domain":[1098.1,918],"nice":false,"zero":false},
    "axis":{"zindex":1,"orient":"left","title":"Dec (J2000)","titlePadding":12,"labelPadding":10,"values":[924,936,948,960,972,984,996,1008,1020,1032,1044,1056,1068,1080,1092],
     "labelExpr":"datum.value==960?'−47°16′':(datum.value==1020?'17′':(datum.value==1080?'18′':''))",
     "encoding":{"ticks":{"x2":{"value":{"expr":"datum.value%60==0?20:9"}}}}}},
   "color":{"field":"n","type":"quantitative","scale":{"scheme":"viridis","domain":[0.03,9.32],"clamp":true},"legend":null}}},
 {"data":{"name":"contour"},"mark":{"type":"line","color":"red","strokeWidth":3.5,"clip":true,"strokeJoin":"round"},
  "encoding":{
   "x":{"field":"ra","type":"quantitative","scale":{"domain":[43.31,25.59],"nice":false,"zero":false},
    "axis":{"zindex":1,"orient":"top","title":null,"labels":false,"values":[26.4,27.2,28,28.8,29.6,30.4,31.2,32,32.8,33.6,34.4,35.2,36,36.8,37.6,38.4,39.2,40,40.8,41.6,42.4,43.2],
     "encoding":{"ticks":{"y2":{"value":{"expr":"abs(datum.value/4-round(datum.value/4))<0.001?20:9"}}}}}},
   "y":{"field":"dec","type":"quantitative","scale":{"domain":[1098.1,918],"nice":false,"zero":false},
    "axis":{"zindex":1,"orient":"right","title":null,"labels":false,"values":[924,936,948,960,972,984,996,1008,1020,1032,1044,1056,1068,1080,1092],
     "encoding":{"ticks":{"x2":{"value":{"expr":"datum.value%60==0?-20:-9"}}}}}},
   "detail":{"field":"c"},"order":{"field":"o","type":"quantitative"}}},
 {"data":{"values":[{"ra":30.3,"dec":1087.67}]},"mark":{"type":"point","filled":true,"color":"red","size":50,"opacity":1},
  "encoding":{"x":{"field":"ra","type":"quantitative","scale":{"domain":[43.31,25.59],"nice":false,"zero":false},"axis":null},
   "y":{"field":"dec","type":"quantitative","scale":{"domain":[1098.1,918],"nice":false,"zero":false},"axis":null}}},
 {"data":{"values":[{"ra":34.46,"dec":1008}]},"mark":{"type":"point","shape":"M-1,0L1,0M0,-1L0,1","filled":false,"stroke":"white","strokeWidth":6,"size":1296,"opacity":1},
  "encoding":{"x":{"field":"ra","type":"quantitative","scale":{"domain":[43.31,25.59],"nice":false,"zero":false},"axis":null},
   "y":{"field":"dec","type":"quantitative","scale":{"domain":[1098.1,918],"nice":false,"zero":false},"axis":null}}},
 {"data":{"values":[{"ra":41.41,"dec":936,"s":"(a)"}]},"mark":{"type":"text","color":"white","fontSize":27},
  "encoding":{"text":{"field":"s"},"x":{"field":"ra","type":"quantitative","scale":{"domain":[43.31,25.59],"nice":false,"zero":false},"axis":null},
   "y":{"field":"dec","type":"quantitative","scale":{"domain":[1098.1,918],"nice":false,"zero":false},"axis":null}}}
 ]},
{"width":540,"height":540,
 "resolve":{"axis":{"x":"independent","y":"independent"}},
 "layer":[
 {"data":{"name":"grid"},"mark":{"type":"rect","width":35.6,"height":35.6,"clip":true},
  "encoding":{
   "x":{"field":"ra","type":"quantitative","scale":{"domain":[43.31,25.59],"nice":false,"zero":false},
    "axis":{"zindex":1,"orient":"bottom","title":null,"labels":false,"values":[26.4,27.2,28,28.8,29.6,30.4,31.2,32,32.8,33.6,34.4,35.2,36,36.8,37.6,38.4,39.2,40,40.8,41.6,42.4,43.2],
     "encoding":{"ticks":{"y2":{"value":{"expr":"abs(datum.value/4-round(datum.value/4))<0.001?-20:-9"}}}}}},
   "y":{"field":"dec","type":"quantitative","scale":{"domain":[1098.1,918],"nice":false,"zero":false},
    "axis":{"zindex":1,"orient":"left","title":null,"labels":false,"values":[924,936,948,960,972,984,996,1008,1020,1032,1044,1056,1068,1080,1092],
     "encoding":{"ticks":{"x2":{"value":{"expr":"datum.value%60==0?20:9"}}}}}},
   "color":{"field":"t","type":"quantitative","scale":{"scheme":"inferno","domain":[13,27],"clamp":true},"legend":null}}},
 {"data":{"values":[{"ra":34.46,"dec":1008}]},"mark":{"type":"point","shape":"M-1,0L1,0M0,-1L0,1","filled":false,"stroke":"white","strokeWidth":6,"size":1296,"opacity":1},
  "encoding":{"x":{"field":"ra","type":"quantitative","scale":{"domain":[43.31,25.59],"nice":false,"zero":false},
    "axis":{"zindex":1,"orient":"top","title":null,"labels":false,"values":[26.4,27.2,28,28.8,29.6,30.4,31.2,32,32.8,33.6,34.4,35.2,36,36.8,37.6,38.4,39.2,40,40.8,41.6,42.4,43.2],
     "encoding":{"ticks":{"y2":{"value":{"expr":"abs(datum.value/4-round(datum.value/4))<0.001?20:9"}}}}}},
   "y":{"field":"dec","type":"quantitative","scale":{"domain":[1098.1,918],"nice":false,"zero":false},
    "axis":{"zindex":1,"orient":"right","title":null,"labels":false,"values":[924,936,948,960,972,984,996,1008,1020,1032,1044,1056,1068,1080,1092],
     "encoding":{"ticks":{"x2":{"value":{"expr":"datum.value%60==0?-20:-9"}}}}}}}},
 {"data":{"values":[{"ra":41.41,"dec":936,"s":"(b)"}]},"mark":{"type":"text","color":"white","fontSize":27},
  "encoding":{"text":{"field":"s"},"x":{"field":"ra","type":"quantitative","scale":{"domain":[43.31,25.59],"nice":false,"zero":false},"axis":null},
   "y":{"field":"dec","type":"quantitative","scale":{"domain":[1098.1,918],"nice":false,"zero":false},"axis":null}}}
 ]}
]
}
